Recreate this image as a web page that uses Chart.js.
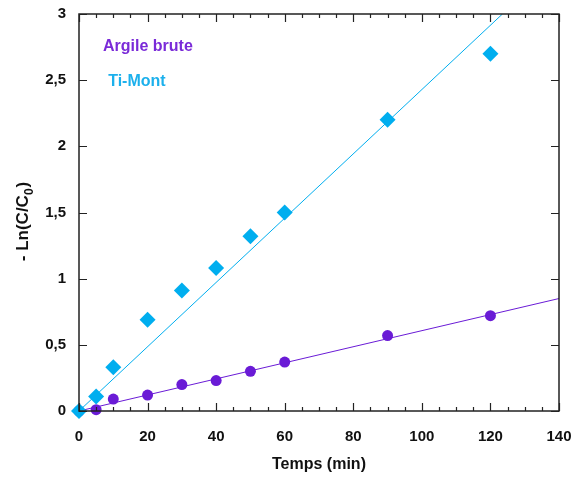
<!DOCTYPE html>
<html>
<head>
<meta charset="utf-8">
<script src="https://cdn.jsdelivr.net/npm/chart.js@4/dist/chart.umd.min.js"></script>
<style>
  html, body { margin: 0; padding: 0; background: #fff; }
  canvas { display: block; }
</style>
</head>
<body>
<canvas id="chart" width="573" height="478"></canvas>
<script>
// données
const temps = [0, 5, 10, 20, 30, 40, 50, 60, 90, 120];
const argileBrute = [0, 0.01, 0.09, 0.12, 0.20, 0.23, 0.30, 0.37, 0.57, 0.72];
const tiMont = [0, 0.11, 0.33, 0.69, 0.91, 1.08, 1.32, 1.50, 2.20, 2.70];

// droites de régression (extrémités)
const fitArgileX = [0, 140];
const fitArgileY = [0, 0.85];
const fitTiX = [0, 123.5];
const fitTiY = [0, 3];

const xTicks = [0, 20, 40, 60, 80, 100, 120, 140];
const yTicks = [0, 0.5, 1, 1.5, 2, 2.5, 3];

const VIOLET = '#6a1bd6';
const CYAN = '#00aeef';
const FAMILY = '"Liberation Sans", Arial, sans-serif';

function pts(xs, ys) {
    return xs.map((x, i) => ({ x: x, y: ys[i] }));
}

// cadre, graduations intérieures, titres et légende
const decorPlugin = {
    id: 'decor',
    afterDraw(chart) {
        const ctx = chart.ctx;
        const xs = chart.scales.x, ys = chart.scales.y;
        const a = chart.chartArea;
        ctx.save();
        ctx.strokeStyle = '#222';
        ctx.lineWidth = 1.5;
        ctx.strokeRect(a.left, a.top, a.right - a.left, a.bottom - a.top);

        ctx.lineWidth = 1.2;
        ctx.beginPath();
        for (let v = 0; v <= 140; v += 5) {
            const px = Math.round(xs.getPixelForValue(v)) + 0.5;
            const len = (v % 20 === 0) ? 8 : 4;
            ctx.moveTo(px, a.bottom); ctx.lineTo(px, a.bottom - len);
            ctx.moveTo(px, a.top); ctx.lineTo(px, a.top + len);
        }
        yTicks.forEach(v => {
            const py = Math.round(ys.getPixelForValue(v)) + 0.5;
            ctx.moveTo(a.left, py); ctx.lineTo(a.left + 8, py);
            ctx.moveTo(a.right, py); ctx.lineTo(a.right - 8, py);
        });
        ctx.stroke();

        // titre axe x
        ctx.fillStyle = '#111';
        ctx.font = 'bold 16px ' + FAMILY;
        ctx.textAlign = 'center';
        ctx.textBaseline = 'middle';
        ctx.fillText('Temps (min)', (a.left + a.right) / 2, 465);

        // titre axe y avec indice
        const big = 'bold 17px ' + FAMILY;
        const small = 'bold 12px ' + FAMILY;
        ctx.translate(28, 222);
        ctx.rotate(-Math.PI / 2);
        ctx.textAlign = 'left';
        ctx.textBaseline = 'alphabetic';
        ctx.font = big;
        const main = '- Ln(C/C';
        const wMain = ctx.measureText(main).width;
        ctx.font = small;
        const wSub = ctx.measureText('0').width;
        ctx.font = big;
        const wEnd = ctx.measureText(')').width;
        const x0 = -(wMain + wSub + wEnd) / 2;
        ctx.fillText(main, x0, 0);
        ctx.font = small;
        ctx.fillText('0', x0 + wMain, 5);
        ctx.font = big;
        ctx.fillText(')', x0 + wMain + wSub + 1, 0);
        ctx.restore();

        // légende
        ctx.save();
        ctx.font = 'bold 16px ' + FAMILY;
        ctx.textAlign = 'left';
        ctx.textBaseline = 'middle';
        ctx.fillStyle = '#7a2ad8';
        ctx.fillText('Argile brute', xs.getPixelForValue(7), ys.getPixelForValue(2.755));
        ctx.fillStyle = '#1cb0ec';
        ctx.fillText('Ti-Mont', xs.getPixelForValue(8.5), ys.getPixelForValue(2.49));
        ctx.restore();
    }
};

const ctx = document.getElementById('chart').getContext('2d');
const myChart = new Chart(ctx, {
    type: 'scatter',
    data: {
        datasets: [
            {
                label: 'Ti-Mont',
                data: pts(temps, tiMont),
                pointStyle: 'rectRot',
                pointRadius: 8,
                backgroundColor: CYAN,
                borderColor: CYAN,
                borderWidth: 0,
                clip: false,
                order: 1
            },
            {
                label: 'Argile brute',
                data: pts(temps, argileBrute),
                pointStyle: 'circle',
                pointRadius: 5.5,
                backgroundColor: VIOLET,
                borderColor: VIOLET,
                borderWidth: 0,
                clip: false,
                order: 2
            },
            {
                label: 'fit Ti-Mont',
                data: pts(fitTiX, fitTiY),
                showLine: true,
                pointRadius: 0,
                borderColor: CYAN,
                borderWidth: 1,
                order: 3
            },
            {
                label: 'fit Argile',
                data: pts(fitArgileX, fitArgileY),
                showLine: true,
                pointRadius: 0,
                borderColor: VIOLET,
                borderWidth: 1,
                order: 4
            }
        ]
    },
    options: {
        responsive: false,
        animation: false,
        layout: { padding: { left: 0, right: 14, top: 14, bottom: 0 } },
        plugins: {
            legend: { display: false },
            tooltip: { enabled: false }
        },
        scales: {
            x: {
                type: 'linear',
                min: 0,
                max: 140,
                afterFit: s => {
                    s.height = 67;
                    s.paddingLeft = 0;
                    s.paddingRight = 0;
                },
                afterBuildTicks: s => { s.ticks = xTicks.map(v => ({ value: v })); },
                grid: { display: false, drawTicks: false },
                border: { display: false },
                ticks: {
                    padding: 17,
                    color: '#111',
                    font: { family: FAMILY, size: 15, weight: 'bold' }
                }
            },
            y: {
                type: 'linear',
                min: 0,
                max: 3,
                afterFit: s => {
                    s.width = 79;
                    s.paddingTop = 0;
                    s.paddingBottom = 0;
                },
                afterBuildTicks: s => { s.ticks = yTicks.map(v => ({ value: v })); },
                grid: { display: false, drawTicks: false },
                border: { display: false },
                ticks: {
                    padding: 13,
                    color: '#111',
                    font: { family: FAMILY, size: 15, weight: 'bold' },
                    callback: v => String(v).replace('.', ',')
                }
            }
        }
    },
    plugins: [decorPlugin]
});
</script>
</body>
</html>
